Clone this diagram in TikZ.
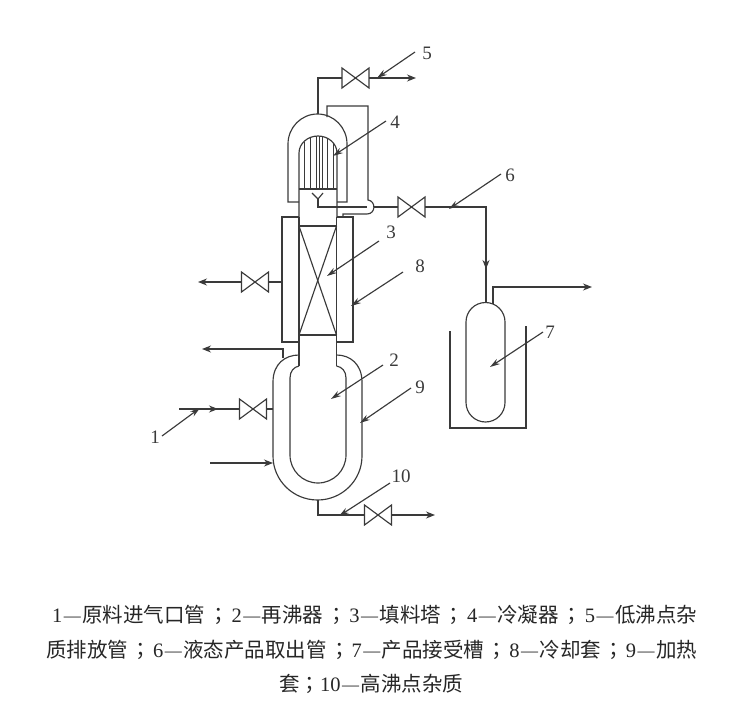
\documentclass[tikz,border=0pt]{standalone}
\usepackage{fontspec}
\setmainfont{Liberation Serif}
\newfontfamily\cjk{Noto Sans CJK SC}
\newfontfamily\cjkp{Noto Sans CJK TC}
\usetikzlibrary{arrows.meta}
\definecolor{ink}{HTML}{3A3A3A}
\tikzset{
  pipe/.style={draw=ink,line width=1.15pt},
  flow/.style={pipe,-{Stealth[length=9pt,width=7pt]}},
  leader/.style={pipe,-{Stealth[length=10pt,width=6pt]}},
  valvebox/.style={minimum width=27pt,minimum height=20pt,inner sep=0pt,outer sep=0pt},
  lab/.style={inner sep=0pt,font=\fontsize{19}{19}\selectfont,text=ink},
  captext/.style={inner sep=0pt,font=\fontsize{20.5}{20.5}\selectfont,text=black!85,anchor=west},
}
\newcommand{\valve}[3]{\node[valvebox] (#1) at (#2,#3) {};
  \draw[pipe] (#1.north west) -- (#1.south east) -- (#1.north east) -- (#1.south west) -- cycle;}
\newcommand{\capline}[5]{\node[captext] (#1) at (#2,#3) {\makebox[#4pt][s]{#5}};}
\newcommand{\dsh}{\kern1.5pt\raisebox{1.5pt}{\fontsize{17}{17}\selectfont —}\kern1.5pt}
\newcommand{\semi}{\hfil{\cjkp ；}\hfil}
\begin{document}
\begin{tikzpicture}[x=1pt,y=-1pt]
\useasboundingbox (0,0) rectangle (750,709);
% valves
\valve{v5}{355.5}{78}
\valve{v6}{411.5}{207}
\valve{v8}{255}{282}
\valve{v1}{253}{409}
\valve{v10}{378}{515}
% condenser
\draw[pipe] (299,202) -- (288,202) -- (288,144) arc[start angle=180,end angle=360,x radius=29.5,y radius=30] -- (347,202) -- (337,202);
\draw[pipe] (299,217) -- (299,153) arc[start angle=180,end angle=360,x radius=19,y radius=17] -- (337,217);
\draw[pipe] (299,189) -- (337,189);
\foreach \tx in {304,310,316,319,322,327,333}{
  \coordinate (tt) at (\tx,{153-17*sqrt(1-(\tx-318)*(\tx-318)/361)});
  \draw[pipe,line width=0.9pt] (tt) -- (\tx,189);}
% distributor and condensate return
\coordinate (ya) at (312,193); \coordinate (yb) at (323,193); \coordinate (yc) at (318,199);
\draw[pipe] (ya) -- (yc) -- (yb);
\draw[pipe] (yc) -- (318,207) -- (367,207);
\draw[pipe] (327,117) -- (327,106) -- (368,106) -- (368,200) .. controls (376,201) and (376,214) .. (367,214) -- (343,214) -- (343,217);
\draw[pipe] (374,207) -- (v6.west);
% column and cooling jacket
\draw[pipe] (299,217) -- (282,217) -- (282,342) -- (299,342);
\draw[pipe] (336.5,217) -- (353,217) -- (353,342) -- (336.5,342);
\draw[pipe] (299,217) -- (299,366);
\draw[pipe] (336.5,217) -- (336.5,366);
\draw[pipe] (299,226) rectangle (336.5,335);
\draw[pipe] (299,226) -- (336.5,335);
\draw[pipe] (336.5,226) -- (299,335);
% reboiler and heating jacket
\draw[pipe] (299,355) .. controls (285,355) and (273,364) .. (273,382) -- (273,456) arc[start angle=180,end angle=0,x radius=44.5,y radius=44] -- (362,382) .. controls (362,364) and (350,355) .. (336.5,355);
\draw[pipe] (299,366) .. controls (294,367) and (290,371) .. (290,378) -- (290,455) arc[start angle=180,end angle=0,x radius=28,y radius=28] -- (346,378) .. controls (346,371) and (342,367) .. (336.5,366);
% pipes
\draw[pipe] (318,114) -- (318,78) -- (v5.west);
\draw[flow] (v5.east) -- (416,78);
\draw[pipe] (v6.east) -- (486,207) -- (486,303);
\draw[flow] (486,240) -- (486,269);
\draw[flow] (v8.west) -- (198,282);
\draw[pipe] (v8.east) -- (282,282);
\draw[flow] (283,358) -- (283,349) -- (202,349);
\draw[pipe] (179,409) -- (v1.west);
\draw[flow] (190,409) -- (218,409);
\draw[pipe] (v1.east) -- (273,409);
\draw[flow] (210,463) -- (273,463);
\draw[pipe] (318,500) -- (318,515) -- (v10.west);
\draw[flow] (v10.east) -- (435,515);
% receiver
\draw[pipe] (466,322) arc[start angle=180,end angle=360,radius=19.5] -- (505,402.5) arc[start angle=0,end angle=180,radius=19.5] -- cycle;
\draw[flow] (493,304) -- (493,287) -- (592,287);
\draw[pipe] (450,331) -- (450,428) -- (526,428) -- (526,326);
% labels
\node[lab] (l1) at (155,437) {1};
\node[lab] (l2) at (394,360) {2};
\node[lab] (l3) at (391,232) {3};
\node[lab] (l4) at (395,122) {4};
\node[lab] (l5) at (427,53) {5};
\node[lab] (l6) at (510,175) {6};
\node[lab] (l7) at (550,332) {7};
\node[lab] (l8) at (420,266) {8};
\node[lab] (l9) at (420,387) {9};
\node[lab] (l10) at (401,476) {10};
% leaders
\draw[leader] (162,436) -- (200,408);
\draw[leader] (383,365) -- (331,399);
\draw[leader] (379,241) -- (327,276);
\draw[leader] (386,121) -- (333,156);
\draw[leader] (415,52) -- (377,78);
\draw[leader] (501,174) -- (449,209);
\draw[leader] (543,332) -- (490,367);
\draw[leader] (403,272) -- (351,306);
\draw[leader] (411,388) -- (360,423);
\draw[leader] (390,483) -- (339,516);
% caption
\capline{c1}{52}{615}{645}{1\dsh{\cjk 原料进气口管}\semi 2\dsh{\cjk 再沸器}\semi 3\dsh{\cjk 填料塔}\semi 4\dsh{\cjk 冷凝器}\semi 5\dsh{\cjk 低沸点杂}}
\capline{c2}{46}{650}{651}{{\cjk 质排放管}\semi 6\dsh{\cjk 液态产品取出管}\semi 7\dsh{\cjk 产品接受槽}\semi 8\dsh{\cjk 冷却套}\semi 9\dsh{\cjk 加热}}
\capline{c3}{279}{684}{162}{{\cjk 套}\semi 10\dsh{\cjk 高沸点杂质}}
\end{tikzpicture}
\end{document}
